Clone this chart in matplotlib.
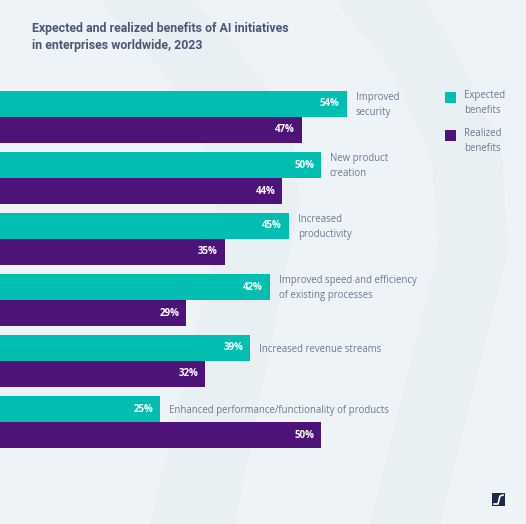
import matplotlib
matplotlib.use("Agg")
import matplotlib.pyplot as plt
from matplotlib.patches import Polygon, Rectangle

categories = ["Improved\nsecurity", "New product\ncreation", "Increased\nproductivity",
              "Improved speed and efficiency\nof existing processes", "Increased revenue streams",
              "Enhanced performance/functionality of products"]
expected = [54, 50, 45, 42, 39, 25]
realized = [47, 44, 35, 29, 32, 50]
series_names = ["Expected\nbenefits", "Realized\nbenefits"]
title = "Expected and realized benefits of AI initiatives\nin enterprises worldwide, 2023"

W, H = 526, 524
BG = "#eef3f7"
TEAL = "#00bfb0"
PURPLE = "#4e1378"
TXT = "#6a7a98"
TITLE_C = "#4a5874"

plt.rcParams['font.family'] = ['Open Sans', 'DejaVu Sans']

fig = plt.figure(figsize=(W / 100, H / 100), dpi=100)
fig.patch.set_facecolor(BG)

def px(x, y):
    return (x / W, 1 - y / H)

# background decoration axes
bgax = fig.add_axes([0, 0, 1, 1], zorder=0)
bgax.set_xlim(0, W)
bgax.set_ylim(H, 0)
bgax.axis("off")
band = "#e9f0f4"
bgax.add_patch(Polygon([(150, 524), (235, 524), (300, 200), (290, 120), (230, 40), (195, 0),
                        (100, 0), (170, 80), (212, 160), (220, 230)],
                       closed=True, facecolor=band, edgecolor="none"))
bgax.add_patch(Polygon([(370, 524), (440, 524), (508, 250), (502, 150), (455, 50), (425, 0),
                        (335, 0), (392, 70), (432, 160), (438, 250)],
                       closed=True, facecolor=band, edgecolor="none"))

ax = fig.add_axes([0, 0, 1, 1], zorder=1)
ax.set_facecolor("none")
scale = 6.42
ax.set_xlim(0, W / scale)
gap = 61.0
ax.set_ylim((H - 117) / gap, -117 / gap)
ax.axis("off")

bh = 26 / gap
for i, (cat, e, r) in enumerate(zip(categories, expected, realized)):
    ax.barh(i - bh / 2, e, height=bh, color=TEAL, linewidth=0)
    ax.barh(i + bh / 2, r, height=bh, color=PURPLE, linewidth=0)
    ax.text(e - 7 / scale, i - bh / 2, f"{e}%", ha="right", va="center",
            color="white", fontsize=7.0, fontweight="bold")
    ax.text(r - 7 / scale, i + bh / 2, f"{r}%", ha="right", va="center",
            color="white", fontsize=7.0, fontweight="bold")
    ax.text(e + 9 / scale, i - bh / 2 + 1.0 / gap, cat, ha="left", va="center",
            color=TXT, fontsize=6.9, linespacing=1.45)

fig.text(32 / W, 1 - 37 / H, title, ha="left", va="center", color=TITLE_C,
         fontsize=8.9, fontweight="bold", linespacing=1.45, family=['Roboto', 'DejaVu Sans'])

# legend
for k, (name, col) in enumerate(zip(series_names, [TEAL, PURPLE])):
    y0 = 92 + k * 38
    ax.add_patch(Rectangle(px(445, y0 + 11), 11 / W, 11 / H, transform=fig.transFigure,
                           facecolor=col, edgecolor="none"))
    fig.text(464 / W, 1 - (y0 + 11) / H, name, ha="left", va="center", color=TXT,
             fontsize=6.9, linespacing=1.45, zorder=3)

# logo
ax.add_patch(Rectangle(px(492, 506), 13 / W, 13 / H, transform=fig.transFigure,
                       facecolor="#1a2a4a", edgecolor="none"))
ax.add_line(plt.Line2D([494 / W, 498 / W, 500 / W, 503 / W],
                       [1 - 504 / H, 1 - 504 / H, 1 - 496 / H, 1 - 495 / H],
                       transform=fig.transFigure, color="white", linewidth=1.2))

fig.savefig("out.png", dpi=100, facecolor=BG)
